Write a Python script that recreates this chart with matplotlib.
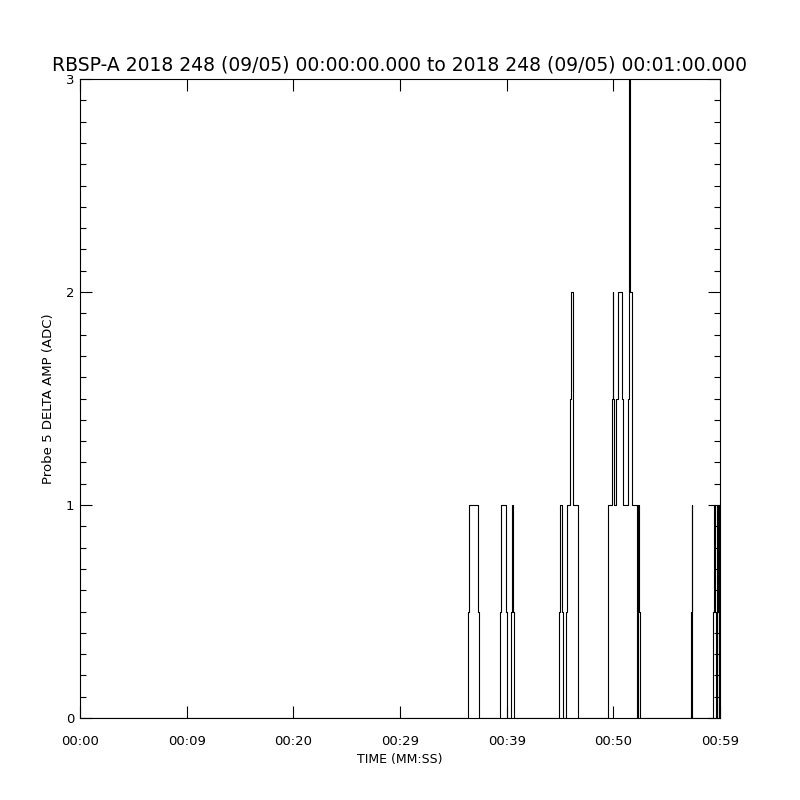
import matplotlib
matplotlib.use("Agg")
import matplotlib.pyplot as plt
from matplotlib.ticker import MultipleLocator

# step breakpoints: time (s) where the value changes, new value
times = [0.0,
         36.40, 36.50, 37.27, 37.37,
         39.375, 39.50, 39.94, 40.00,
         40.38, 40.47, 40.59, 40.69,
         44.91, 45.00, 45.22, 45.31, 45.53, 45.66, 45.97, 46.06, 46.19, 46.25, 46.69, 46.72,
         49.50, 49.90, 49.93, 49.97, 50.09, 50.25, 50.47, 50.84, 50.94,
         51.40, 51.48, 51.60, 51.72, 51.78, 52.19, 52.31, 52.43, 52.50,
         57.25, 57.33, 57.38, 57.40,
         59.37, 59.47, 59.53, 59.58, 59.69, 59.75, 59.84, 59.87, 59.90, 59.94, 60.0]
values = [0,
          0.5, 1, 0.5, 0,
          0.5, 1, 0.5, 0,
          0.5, 1, 0.5, 0,
          0.5, 1, 0.5, 0, 0.5, 1, 1.5, 2, 1.5, 1, 0.5, 0,
          1, 1.5, 2, 1.5, 1, 1.5, 2, 1.5, 1,
          1.5, 3, 2, 1.5, 1, 0, 1, 0.5, 0,
          0.5, 1, 0.5, 0,
          0.5, 1, 0.5, 0, 0.5, 1, 0.5, 0, 0.5, 1, 1]

xtick_pos = [0, 10, 20, 30, 40, 50, 60]
xtick_labels = ["00:00", "00:09", "00:20", "00:29", "00:39", "00:50", "00:59"]
ytick_pos = [0, 1, 2, 3]

title = "RBSP-A 2018 248 (09/05) 00:00:00.000 to 2018 248 (09/05) 00:01:00.000"

fig = plt.figure(figsize=(8, 8), dpi=100)
ax = fig.add_axes([0.1, 0.1025, 0.8, 0.79875])

ax.plot(times, values, drawstyle="steps-post", color="black", linewidth=0.8)

ax.set_xlim(0, 60)
ax.set_ylim(0, 3)
ax.set_xticks(xtick_pos)
ax.set_xticklabels(xtick_labels)
ax.set_yticks(ytick_pos)
ax.set_yticklabels([str(v) for v in ytick_pos])
ax.yaxis.set_minor_locator(MultipleLocator(0.1))

ax.tick_params(axis="both", which="major", direction="in", length=8.6, width=0.8,
               top=True, right=True, labelsize=9.5)
ax.tick_params(axis="y", which="minor", direction="in", length=4.3, width=0.8,
               left=True, right=True)
ax.tick_params(axis="x", which="major", pad=12)
ax.tick_params(axis="y", which="major", pad=4)
for s in ax.spines.values():
    s.set_linewidth(0.8)

ax.set_xlabel("TIME (MM:SS)", fontsize=9, labelpad=4)
ax.set_ylabel("Probe 5 DELTA AMP (ADC)", fontsize=9.5, labelpad=8)
ax.set_title(title, fontsize=13.5, pad=6)

fig.savefig("out.png", dpi=100)
